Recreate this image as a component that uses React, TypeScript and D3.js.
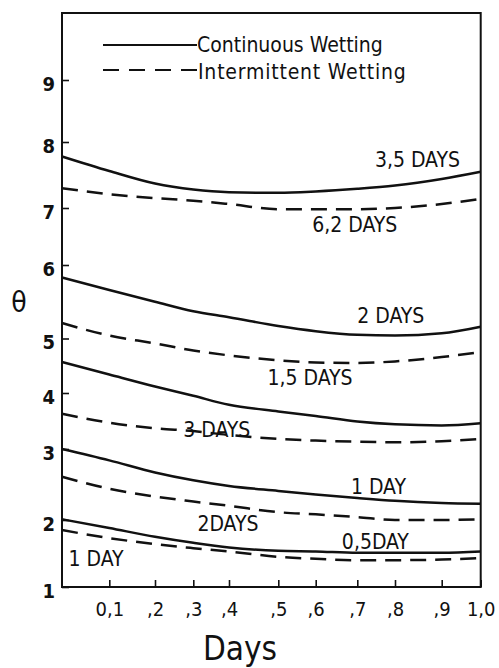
import React, { useEffect, useRef } from 'react';
import * as d3 from 'd3';

const days = [0, 0.1, 0.2, 0.3, 0.4, 0.5, 0.6, 0.7, 0.8, 0.9, 1.0];

// continuous wetting (solid lines)
const cont35 = [7.78, 7.56, 7.37, 7.28, 7.24, 7.23, 7.25, 7.29, 7.34, 7.44, 7.55];
const cont2 = [5.83, 5.66, 5.5, 5.37, 5.29, 5.17, 5.1, 5.05, 5.04, 5.07, 5.16];
const cont15 = [4.57, 4.34, 4.12, 3.95, 3.79, 3.67, 3.59, 3.49, 3.44, 3.42, 3.46];
const cont1 = [3.0, 2.84, 2.67, 2.56, 2.48, 2.41, 2.36, 2.31, 2.27, 2.24, 2.23];
const cont05 = [2.01, 1.88, 1.75, 1.66, 1.59, 1.54, 1.53, 1.51, 1.51, 1.51, 1.53];

// intermittent wetting (dashed lines)
const inter62 = [7.3, 7.21, 7.15, 7.11, 7.06, 6.98, 6.98, 6.98, 7.0, 7.06, 7.14];
const inter15 = [5.21, 5.04, 4.91, 4.78, 4.69, 4.6, 4.56, 4.55, 4.58, 4.66, 4.75];
const inter3 = [3.63, 3.47, 3.37, 3.32, 3.25, 3.18, 3.15, 3.13, 3.12, 3.14, 3.18];
const inter2 = [2.61, 2.44, 2.33, 2.26, 2.2, 2.11, 2.08, 2.04, 2.0, 2.0, 2.01];
const inter1 = [1.85, 1.73, 1.64, 1.58, 1.53, 1.45, 1.42, 1.4, 1.4, 1.41, 1.43];

const solidSeries = [cont35, cont2, cont15, cont1, cont05];
const dashedSeries = [inter62, inter15, inter3, inter2, inter1];

// curve annotations (text, day, theta of baseline centre)
const labelText = ['3,5 DAYS', '6,2 DAYS', '2 DAYS', '1,5 DAYS', '3 DAYS', '1 DAY', '2DAYS', '0,5DAY', '1 DAY'];
const labelDay = [0.848, 0.694, 0.789, 0.585, 0.366, 0.756, 0.397, 0.748, 0.072];
const labelTheta = [7.62, 6.58, 5.21, 4.15, 3.22, 2.37, 1.84, 1.56, 1.31];

// axes
const xTicks = [0.1, 0.2, 0.3, 0.4, 0.5, 0.6, 0.7, 0.8, 0.9, 1.0];
const xTickLabels = ['0,1', ',2', ',3', ',4', ',5', ',6', ',7', ',8', ',9', '1,0'];
const yTicks = [1, 2, 3, 4, 5, 6, 7, 8, 9];
const yDomain = [1, 2, 3, 4, 5, 6, 7, 8, 9, 10];

const FONT = "'DejaVu Sans Condensed', 'DejaVu Sans', sans-serif";

export default function App() {
  const ref = useRef<SVGSVGElement>(null);

  useEffect(() => {
    const svg = d3.select(ref.current);
    svg.selectAll('*').remove();

    // hand-drawn axes are not quite even, so the scales follow the drawn ticks
    const x = d3.scaleLinear()
      .domain(days)
      .range([62, 109.3, 155, 193.3, 229, 278.3, 315.7, 357.3, 395, 441.7, 480.7]);
    const y = d3.scaleLinear()
      .domain(yDomain)
      .range([587, 520, 449, 393, 338.5, 265, 208, 142, 80, 13]);

    const g = svg.append('g').attr('font-family', FONT).attr('fill', '#111');

    // frame
    g.append('rect')
      .attr('x', x(0)).attr('y', y(10))
      .attr('width', x(1) - x(0)).attr('height', y(1) - y(10))
      .attr('fill', 'none').attr('stroke', '#111').attr('stroke-width', 2);

    // y axis, ticks pointing inwards
    const yAxis = d3.axisLeft(y).tickValues(yTicks).tickSizeInner(-7).tickSizeOuter(0)
      .tickPadding(7).tickFormat(d3.format('d'));
    const ya = g.append('g').attr('transform', `translate(${x(0)},0)`).call(yAxis);
    ya.select('.domain').remove();
    ya.selectAll('line').attr('stroke', '#111').attr('stroke-width', 1.6);
    ya.selectAll('text')
      .attr('dy', '0.5em')
      .attr('font-size', 20).attr('font-weight', 'bold').attr('font-family', FONT).attr('fill', '#111');

    // x axis
    const xAxis = d3.axisBottom(x).tickValues(xTicks).tickSizeInner(-7).tickSizeOuter(0)
      .tickPadding(15).tickFormat((d, i) => xTickLabels[i]);
    const xa = g.append('g').attr('transform', `translate(0,${y(1)})`).call(xAxis);
    xa.select('.domain').remove();
    xa.selectAll('line').attr('stroke', '#111').attr('stroke-width', 1.6);
    xa.selectAll('text')
      .attr('font-size', 20).attr('font-family', FONT).attr('fill', '#111');

    // axis titles
    g.append('text').attr('x', 240).attr('y', 660).attr('text-anchor', 'middle')
      .attr('font-size', 33).text('Days');
    g.append('text').attr('x', 19).attr('y', 312).attr('text-anchor', 'middle')
      .attr('font-size', 28).text('θ');

    const line = d3.line<number>()
      .x((d, i) => x(days[i]))
      .y(d => y(d))
      .curve(d3.curveMonotoneX);

    g.selectAll('.solid').data(solidSeries).join('path')
      .attr('class', 'solid')
      .attr('d', d => line(d))
      .attr('fill', 'none').attr('stroke', '#111').attr('stroke-width', 2.5);

    g.selectAll('.dashed').data(dashedSeries).join('path')
      .attr('class', 'dashed')
      .attr('d', d => line(d))
      .attr('fill', 'none').attr('stroke', '#111').attr('stroke-width', 2.5)
      .attr('stroke-dasharray', '16 9');

    // curve labels
    g.selectAll('.lbl').data(labelText).join('text')
      .attr('class', 'lbl')
      .attr('x', (d, i) => x(labelDay[i]))
      .attr('y', (d, i) => y(labelTheta[i]))
      .attr('text-anchor', 'middle')
      .attr('font-size', 21)
      .text(d => d);

    // legend
    const lg = g.append('g');
    lg.append('line').attr('x1', 103).attr('x2', 197).attr('y1', 45).attr('y2', 45)
      .attr('stroke', '#111').attr('stroke-width', 2.2);
    lg.append('text').attr('x', 197).attr('y', 52).attr('font-size', 21).text('Continuous Wetting');
    lg.append('line').attr('x1', 103).attr('x2', 198).attr('y1', 70).attr('y2', 70)
      .attr('stroke', '#111').attr('stroke-width', 2.2).attr('stroke-dasharray', '16 10');
    lg.append('text').attr('x', 198).attr('y', 79).attr('font-size', 21)
      .attr('letter-spacing', 0.8).text('Intermittent Wetting');
  }, []);

  return (
    <svg ref={ref} width={499} height={668}
      style={{ position: 'absolute', left: 0, top: 0, background: '#fff' }} />
  );
}
